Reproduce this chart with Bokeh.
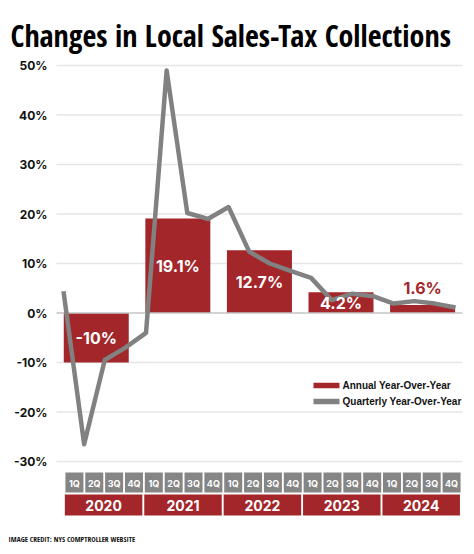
from bokeh.plotting import figure
from bokeh.models import Range1d
from bokeh.core.properties import value
from bokeh.embed import file_html
from bokeh.resources import INLINE

# ---------------- data ----------------
title_text = "Changes in Local Sales-Tax Collections"
years = ["2020", "2021", "2022", "2023", "2024"]
quarters = ["1Q", "2Q", "3Q", "4Q"]
annual = [-10.0, 19.1, 12.7, 4.2, 1.6]
annual_labels = ["-10%", "19.1%", "12.7%", "4.2%", "1.6%"]
quarterly = [4.4, -26.5, -9.5, -7.0,
             -4.0, 49.0, 20.2, 19.0,
             21.4, 12.4, 10.0, 8.5,
             7.1, 2.6, 3.9, 3.4,
             1.9, 2.4, 1.9, 1.1]
y_ticks = [50, 40, 30, 20, 10, 0, -10, -20, -30]
y_tick_labels = ["50%", "40%", "30%", "20%", "10%", "0%", "-10%", "-20%", "-30%"]
legend_labels = ["Annual Year-Over-Year", "Quarterly Year-Over-Year"]
credit_text = "IMAGE CREDIT: NYS COMPTROLLER WEBSITE"

# ---------------- layout ----------------
W, H = 474, 554
PX_X = 19.85   # pixels per quarter slot
PX_Y = 4.95    # pixels per percentage point
X0_REF = 64.0  # x of first quarter slot
Y0_REF = 312.5 # y of 0%
OFF = 0


def X(refx):
    return (refx - X0_REF) / PX_X


def Y(refy):
    return (Y0_REF - refy) / PX_Y


RED = "#a3262a"
GRAY = "#858585"
LINE_GRAY = "#818181"
COND = value("Open Sans Condensed")

p = figure(width=W, height=H, output_backend="svg", toolbar_location=None,
           x_range=Range1d(X(OFF), X(OFF + W)), y_range=Range1d(Y(OFF + H), Y(OFF)),
           min_border=0, min_border_left=0, min_border_right=0,
           min_border_top=0, min_border_bottom=0)
p.axis.visible = False
p.grid.visible = False
p.outline_line_color = None
p.background_fill_color = "white"
p.border_fill_color = "white"

# gridlines
grid_vals = [v for v in y_ticks if v != 0]
p.segment(x0=[X(56)] * len(grid_vals), x1=[X(462)] * len(grid_vals),
          y0=grid_vals, y1=grid_vals, line_color="#e6e6e6", line_width=1.5)

# y tick labels
p.text(x=[X(47)] * len(y_ticks), y=y_ticks, text=y_tick_labels,
       text_align="right", text_baseline="middle", text_font=value("Inter"),
       text_font_style="bold", text_font_size="12px", text_color="#111111")

# bars (annual)
n_years = len(years)
bar_x = [1.6 + 4.11 * k for k in range(n_years)]
p.vbar(x=bar_x, width=65 / PX_X, bottom=0, top=annual, fill_color=RED, line_color=None)

# zero line
p.segment(x0=[X(56)], x1=[X(462)], y0=[0], y1=[0], line_color="#c4c4c4", line_width=1.5)

# quarterly line
nq = len(quarterly)
line_x = [X(63) + i * (X(455) - X(63)) / (nq - 1) for i in range(nq)]
p.line(x=line_x, y=quarterly, line_color=LINE_GRAY, line_width=4.5, line_join="round")

# bar labels
inside = [abs(v) >= 3 for v in annual]
lab_y = [v / 2 if ins else v + 3.4 for v, ins in zip(annual, inside)]
lab_col = ["white" if ins else RED for ins in inside]
p.text(x=bar_x, y=lab_y, text=annual_labels, text_color=lab_col,
       text_align="center", text_baseline="middle", text_font=value("Inter"),
       text_font_style="bold", text_font_size="16px")

# quarter boxes
q_x = [i + 0.5 for i in range(n_years * len(quarters))]
q_lab = quarters * n_years
p.rect(x=q_x, y=[Y(482)] * len(q_x), width=18 / PX_X, height=20 / PX_Y,
       fill_color=GRAY, line_color=None)
p.text(x=q_x, y=[Y(482.5)] * len(q_x), text=q_lab, text_color="white",
       text_align="center", text_baseline="middle", text_font=value("Inter"),
       text_font_style="bold", text_font_size="9px")

# year boxes
y_x = [4 * k + 1.97 for k in range(n_years)]
p.rect(x=y_x, y=[Y(504.5)] * n_years, width=77.5 / PX_X, height=21 / PX_Y,
       fill_color=RED, line_color=None)
p.text(x=y_x, y=[Y(505)] * n_years, text=years, text_color="white",
       text_align="center", text_baseline="middle", text_font=value("Inter"),
       text_font_style="bold", text_font_size="14px")

# legend
leg_y = [Y(385), Y(401)]
p.rect(x=[X(326)] * 2, y=leg_y, width=26 / PX_X, height=5.5 / PX_Y,
       fill_color=[RED, LINE_GRAY], line_color=None)
p.text(x=[X(342)] * 2, y=leg_y, text=legend_labels, text_align="left",
       text_baseline="middle", text_font=value("Liberation Sans"),
       text_font_style="bold", text_font_size="10px", text_color="#111111")

# title
p.text(x=[X(10)], y=[Y(35)], text=[title_text], text_align="left",
       text_baseline="alphabetic", text_font=COND,
       text_font_style="bold", text_font_size="30px", text_color="black")

# credit
p.text(x=[X(8)], y=[Y(538)], text=[credit_text], text_align="left",
       text_baseline="middle", text_font=COND,
       text_font_style="bold", text_font_size="7.5px", text_color="#111111")

open("out.html", "w").write(file_html(p, INLINE))
